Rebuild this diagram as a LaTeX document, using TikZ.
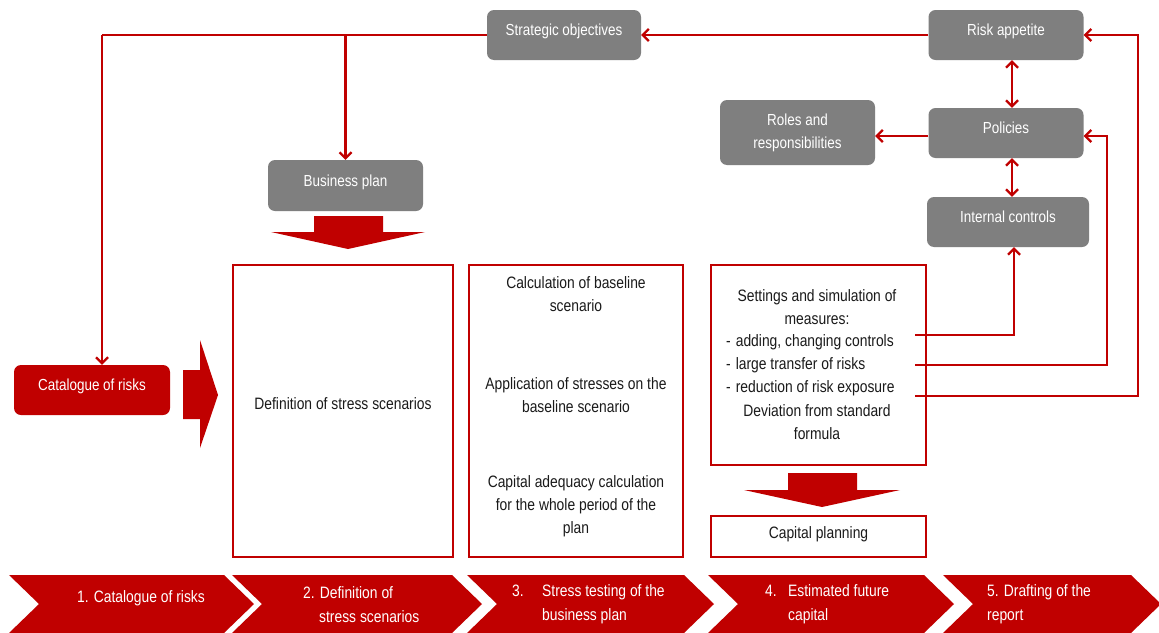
\documentclass[tikz,border=0pt]{standalone}
\usepackage{fontspec}
\setmainfont[FakeStretch=0.84]{Liberation Sans}
\usetikzlibrary{arrows.meta}
\definecolor{myred}{HTML}{C00000}
\definecolor{mygray}{HTML}{7F7F7F}
\definecolor{mytext}{HTML}{1A1A1A}
\begin{document}
\begin{tikzpicture}[x=1pt,y=-1pt,
  tip/.tip={Straight Barb[length=6pt,width=12pt,line width=2.2pt]},
  graybox/.style={fill=mygray, rounded corners=7pt, text=white, font=\fontsize{16}{23}\selectfont, align=center, inner sep=0pt},
  upshift/.style={text depth=10pt},
  redbox/.style={fill=myred, rounded corners=7pt, text=white, font=\fontsize{16}{23}\selectfont, align=center, inner sep=0pt},
  frame/.style={draw=myred, line width=2.3pt, fill=white, inner sep=0pt},
  conn/.style={draw=myred, line width=2.3pt, -tip},
  both/.style={draw=myred, line width=2.3pt, tip-tip},
  plain/.style={draw=myred, line width=2.3pt},
  body/.style={text=mytext, font=\fontsize{16.5}{23}\selectfont, align=center, inner sep=0pt},
  blockarrow/.style={fill=myred, draw=none},
  chev/.style={fill=myred, draw=none},
  chevtext/.style={text=white, font=\fontsize{16.5}{24}\selectfont, align=left, inner sep=0pt}
]
\useasboundingbox (0,0) rectangle (1159,632);
\fill[white] (0,0) rectangle (1159,632);

% gray boxes
\node[graybox, upshift, minimum width=154pt, minimum height=50pt] (so) at (564,35) {Strategic objectives};
\node[graybox, upshift, minimum width=155pt, minimum height=50pt] (ra) at (1006,35) {Risk appetite};
\node[graybox, upshift, minimum width=155pt, minimum height=50pt] (pol) at (1006,133) {Policies};
\node[graybox, minimum width=155pt, minimum height=65pt] (roles) at (797.5,132.5) {Roles and\\responsibilities};
\node[graybox, upshift, minimum width=162pt, minimum height=50pt] (ic) at (1008,222) {Internal controls};
\node[graybox, upshift, minimum width=155pt, minimum height=51pt] (bp) at (345.5,185.5) {Business plan};
\node[redbox, upshift, minimum width=156pt, minimum height=50pt] (cat) at (92,390) {Catalogue of risks};

% frames
\node[frame, minimum width=220pt, minimum height=292pt] (b2) at (343,411) {};
\node[body] (t2) at (343,404) {Definition of stress scenarios};
\node[frame, minimum width=214pt, minimum height=292pt] (b3) at (576,411) {};
\node[body] (t3a) at (576,294.5) {Calculation of baseline\\scenario};
\node[body] (t3b) at (576,395) {Application of stresses on the\\baseline scenario};
\node[body] (t3c) at (576,506) {Capital adequacy calculation\\for the whole period of the\\plan};
\node[frame, minimum width=215pt, minimum height=200pt] (b4) at (818.5,365) {};
\node[body] (t4a) at (817,307.5) {Settings and simulation of\\measures:};
\node[body, anchor=west, align=left] (t4b) at (726,365.5) {-\hspace{5pt}adding, changing controls\\-\hspace{5pt}large transfer of risks\\-\hspace{5pt}reduction of risk exposure};
\node[body] (t4c) at (817,422.5) {Deviation from standard\\formula};
\node[frame, minimum width=215pt, minimum height=41pt] (cp) at (818.5,536.5) {};
\node[body] (tcp) at (818.5,534) {Capital planning};

% block arrows
\fill[blockarrow] (314,216) -- (383,216) -- (383,232) -- (425,232) -- (348,249) -- (271,232) -- (314,232) -- cycle;
\fill[blockarrow] (183,370) -- (200,370) -- (200,340) -- (218,395) -- (200,448) -- (200,419) -- (183,419) -- cycle;
\fill[blockarrow] (788,473) -- (857,473) -- (857,490) -- (900,490) -- (822,507) -- (744,490) -- (788,490) -- cycle;

% connectors
\coordinate (k1) at (102,35);
\coordinate (k2) at (bp.north |- so.west);
\draw[plain] (so.west) -- (k1);
\draw[conn] (k1) -- (k1 |- cat.north);
\draw[conn] (k2) -- (bp.north);
\draw[conn] (ra.west) -- (so.east);
\draw[both] ([xshift=6pt]ra.south) -- ([xshift=6pt]pol.north);
\draw[both] ([xshift=6pt]pol.south) -- ([xshift=6pt]pol.south |- ic.north);
\draw[conn] ([yshift=-3pt]pol.west) -- ([yshift=-3pt]pol.west -| roles.east);
\coordinate (s1) at (915,335);
\coordinate (s2) at (915,365);
\coordinate (s3) at (915,396);
\coordinate (v2) at (1107,365);
\coordinate (v3) at (1138,396);
\draw[conn] (s1) -| ([xshift=6pt]ic.south);
\draw[conn] (s2) -- (v2) |- ([yshift=-3pt]pol.east);
\draw[conn] (s3) -- (v3) |- (ra.east);

% chevrons
\foreach \L/\R/\n in {9/224/c1, 232/452/c2, 467/684/c3, 708/924/c4, 943/1131/c5}{
  \fill[chev] (\L,575) -- (\R,575) -- (\R+30,604) -- (\R,633) -- (\L,633) -- (\L+30,604) -- cycle;
}
\node[chevtext] (ct1) at (141,598) {1. Catalogue of risks};
\node[chevtext, anchor=west] (ct2) at (303,604.5) {2. Definition of\\\hspace*{16pt}stress scenarios};
\node[chevtext, anchor=west] (ct3) at (512,604.5) {\makebox[30pt][l]{3.}Stress testing of the\\\hspace*{30pt}business plan};
\node[chevtext, anchor=west] (ct4) at (765,604.5) {\makebox[23pt][l]{4.}Estimated future\\\hspace*{23pt}capital};
\node[chevtext, anchor=west] (ct5) at (987,604.5) {5. Drafting of the\\report};
\end{tikzpicture}
\end{document}
